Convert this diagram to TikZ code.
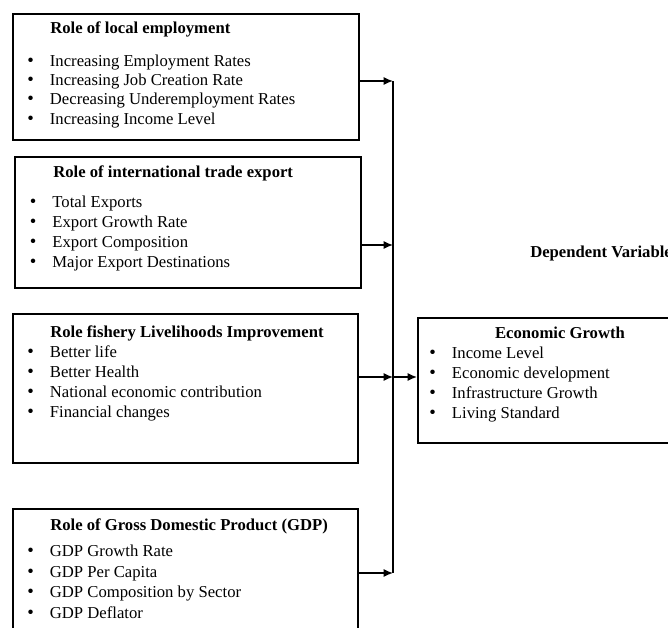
\documentclass[tikz,border=0pt]{standalone}
\usepackage{fontspec}
\setmainfont{Liberation Serif}
\usetikzlibrary{arrows.meta}

\newcommand{\itm}[1]{\makebox[17pt][l]{\fontsize{14}{14}\selectfont\textbullet}#1}

\begin{document}
\begin{tikzpicture}[x=0.75pt, y=-0.75pt,
		box/.style={draw, line width=1.2pt, inner sep=0pt, anchor=north west},
		ttl/.style={font=\fontsize{12.5}{15}\selectfont\bfseries, anchor=base west, inner sep=0pt},
		lst/.style={font=\fontsize{12.5}{15}\selectfont, align=left, anchor=base west, inner sep=0pt},
		arr/.style={-{Latex[length=7pt,width=6pt]}, line width=1.1pt}]
		\useasboundingbox (0,0) rectangle (668,628);
		\clip (0,0) rectangle (668,628);

		% independent variables (lists are placed by the baseline of their last line)
		\node[box, minimum width=259.5pt, minimum height=94.5pt] (lemp) at (12,13) {};
		\node[ttl] (lempt) at (50,33) {Role of local employment};
		\node[lst, font=\fontsize{12.5}{14.3}\selectfont] (lempl) at (27,124) {\itm{Increasing Employment Rates}\\\itm{Increasing Job Creation Rate}\\\itm{Decreasing Underemployment Rates}\\\itm{Increasing Income Level}};

		\node[box, minimum width=259.5pt, minimum height=98.25pt] (trade) at (14,156) {};
		\node[ttl] (tradet) at (53,177) {Role of international trade export};
		\node[lst] (tradel) at (29.5,267) {\itm{Total Exports}\\\itm{Export Growth Rate}\\\itm{Export Composition}\\\itm{Major Export Destinations}};

		\node[box, minimum width=258.75pt, minimum height=111.75pt] (fish) at (12,313) {};
		\node[ttl] (fisht) at (50,337) {Role fishery Livelihoods Improvement};
		\node[lst] (fishl) at (27,417) {\itm{Better life}\\\itm{Better Health}\\\itm{National economic contribution}\\\itm{Financial changes}};

		\node[box, minimum width=258.75pt, minimum height=106.5pt] (gdp) at (12,508) {};
		\node[ttl] (gdpt) at (50,530) {Role of Gross Domestic Product (GDP)};
		\node[lst, font=\fontsize{12.5}{15.4}\selectfont] (gdpl) at (27,618.5) {\itm{GDP Growth Rate}\\\itm{GDP Per Capita}\\\itm{GDP Composition by Sector}\\\itm{GDP Deflator}};

		% dependent variable
		\node[ttl] (dep) at (530,257) {Dependent Variable};
		\node[box, minimum width=212.25pt, minimum height=93.75pt] (growth) at (417,317) {};
		\node[ttl, anchor=base] (growtht) at (560,338) {Economic Growth};
		\node[lst] (growthl) at (429,418) {\itm{Income Level}\\\itm{Economic development}\\\itm{Infrastructure Growth}\\\itm{Living Standard}};

		% connectors
		\coordinate (j1) at (393,81);
		\coordinate (j2) at (393,245);
		\coordinate (j3) at (393,377);
		\coordinate (j4) at (393,573);
		\draw[line width=1.1pt] (j1) -- (j4);
		\draw[arr] (lemp.east |- j1) -- (j1);
		\draw[arr] (trade.east |- j2) -- (j2);
		\draw[arr] (fish.east |- j3) -- (j3);
		\draw[arr] (gdp.east |- j4) -- (j4);
		\draw[arr] (j3) -- (growth.west |- j3);
	\end{tikzpicture}
\end{document}
